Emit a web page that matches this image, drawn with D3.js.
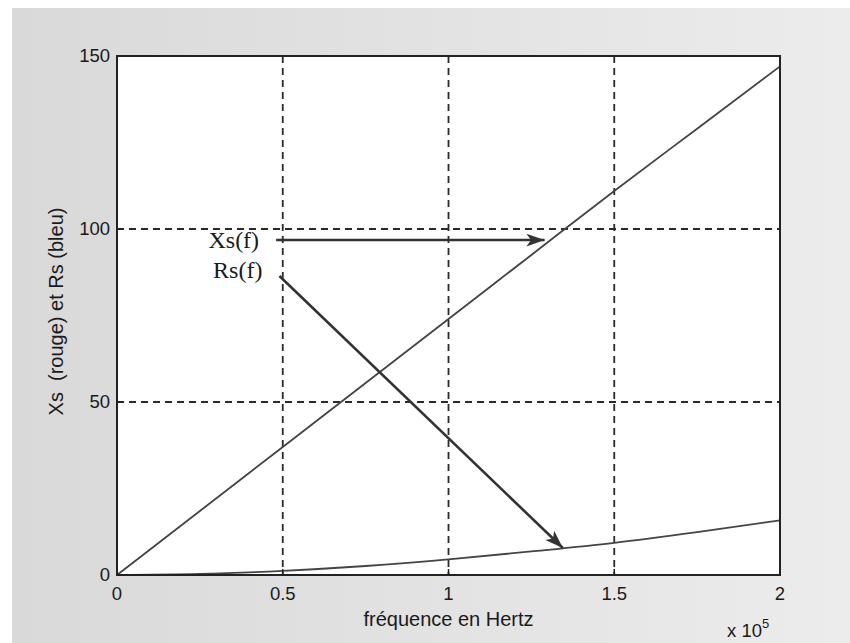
<!DOCTYPE html>
<html lang="fr">
<head>
<meta charset="UTF-8">
<title>Xs et Rs en fonction de la fréquence</title>
<script src="https://d3js.org/d3.v7.min.js"></script>
<style>
  body { margin: 0; background: #fff; }
  .tick-label { font-family: "Liberation Sans", Arial, sans-serif; font-size: 18.5px; fill: #1a1a1a; }
  .axis-label { font-family: "Liberation Sans", Arial, sans-serif; font-size: 20px; fill: #1a1a1a; }
  .note { font-family: "Liberation Serif", "Times New Roman", serif; font-size: 24px; fill: #1a1a1a; }
</style>
</head>
<body>
<div id="chart"></div>
<script>
// frequency in units of 1e5 Hz
const freq = [0, 0.25, 0.5, 0.75, 1, 1.25, 1.5, 1.75, 2];
const xsValues = [0, 18.5, 37, 55.5, 74, 92.5, 111, 129, 147];
const rsValues = [0, 0.3, 1.2, 2.6, 4.5, 6.8, 9.3, 12.4, 15.8];

const xTicks = [0, 0.5, 1, 1.5, 2];
const yTicks = [0, 50, 100, 150];

// annotation arrows [label, from f, from v, to f, to v]
const notes = [
  ["Xs(f)", 0.48, 96.8, 1.29, 96.8],
  ["Rs(f)", 0.49, 86.4, 1.345, 7.8]
];

const W = 850, H = 643;
const margin = { top: 56, right: 70, bottom: 68, left: 117 };
const width = W - margin.left - margin.right;
const height = H - margin.top - margin.bottom;

const svg = d3.select("#chart").append("svg")
  .attr("width", W)
  .attr("height", H);

const defs = svg.append("defs");
const grad = defs.append("linearGradient").attr("id", "paper");
grad.append("stop").attr("offset", "0%").attr("stop-color", "#d9d9d9");
grad.append("stop").attr("offset", "100%").attr("stop-color", "#ececec");

defs.append("marker")
  .attr("id", "head")
  .attr("viewBox", "0 0 10 10")
  .attr("refX", 10).attr("refY", 5)
  .attr("markerWidth", 7).attr("markerHeight", 7)
  .attr("markerUnits", "strokeWidth")
  .attr("orient", "auto")
  .append("path")
  .attr("d", "M0,1.5 L10,5 L0,8.5 L2.5,5 Z")
  .attr("fill", "#333");

// scanned paper background
svg.append("rect")
  .attr("x", 12).attr("y", 8)
  .attr("width", W - 12).attr("height", H - 8)
  .attr("fill", "url(#paper)");

const g = svg.append("g")
  .attr("transform", `translate(${margin.left},${margin.top})`);

const x = d3.scaleLinear().domain([0, 2]).range([0, width]);
const y = d3.scaleLinear().domain([0, 150]).range([height, 0]);

g.append("rect")
  .attr("width", width).attr("height", height)
  .attr("fill", "#fff");

// dashed grid
g.selectAll(".gx")
  .data(xTicks.slice(1, -1))
  .enter().append("line")
  .attr("x1", d => x(d)).attr("x2", d => x(d))
  .attr("y1", 0).attr("y2", height)
  .attr("stroke", "#2a2a2a").attr("stroke-width", 1.8)
  .attr("stroke-dasharray", "7,5");

g.selectAll(".gy")
  .data(yTicks.slice(1, -1))
  .enter().append("line")
  .attr("x1", 0).attr("x2", width)
  .attr("y1", d => y(d)).attr("y2", d => y(d))
  .attr("stroke", "#2a2a2a").attr("stroke-width", 1.8)
  .attr("stroke-dasharray", "7,5");

// curves
const line = d3.line()
  .x((d, i) => x(freq[i]))
  .y(d => y(d))
  .curve(d3.curveMonotoneX);

g.append("path")
  .datum(xsValues)
  .attr("d", line)
  .attr("fill", "none")
  .attr("stroke", "#444")
  .attr("stroke-width", 1.8);

g.append("path")
  .datum(rsValues)
  .attr("d", line)
  .attr("fill", "none")
  .attr("stroke", "#444")
  .attr("stroke-width", 1.8);

// frame
g.append("rect")
  .attr("width", width).attr("height", height)
  .attr("fill", "none")
  .attr("stroke", "#222")
  .attr("stroke-width", 2);

// inner ticks
g.selectAll(".tx")
  .data(xTicks)
  .enter().append("line")
  .attr("x1", d => x(d)).attr("x2", d => x(d))
  .attr("y1", height).attr("y2", height - 6)
  .attr("stroke", "#222").attr("stroke-width", 1.5);

g.selectAll(".ty")
  .data(yTicks)
  .enter().append("line")
  .attr("x1", 0).attr("x2", 6)
  .attr("y1", d => y(d)).attr("y2", d => y(d))
  .attr("stroke", "#222").attr("stroke-width", 1.5);

// tick labels
g.selectAll(".lx")
  .data(xTicks)
  .enter().append("text")
  .attr("class", "tick-label")
  .attr("x", d => x(d))
  .attr("y", height + 25)
  .attr("text-anchor", "middle")
  .text(d => d3.format("~g")(d));

g.selectAll(".ly")
  .data(yTicks)
  .enter().append("text")
  .attr("class", "tick-label")
  .attr("x", -7)
  .attr("y", d => y(d) + 6)
  .attr("text-anchor", "end")
  .text(d => d);

// axis labels
g.append("text")
  .attr("class", "axis-label")
  .attr("x", width / 2)
  .attr("y", height + 51)
  .attr("text-anchor", "middle")
  .text("fréquence en Hertz");

g.append("text")
  .attr("class", "axis-label")
  .attr("transform", `translate(-54,${height / 2 - 4}) rotate(-90)`)
  .attr("text-anchor", "middle")
  .attr("xml:space", "preserve")
  .text("Xs  (rouge) et Rs (bleu)");

const mult = g.append("text")
  .attr("class", "tick-label")
  .attr("x", width - 53)
  .attr("y", height + 62);
mult.append("tspan").text("x 10");
mult.append("tspan").attr("dy", -9).attr("font-size", 13).text("5");

// annotations
notes.forEach(([label, f0, v0, f1, v1]) => {
  g.append("line")
    .attr("x1", x(f0)).attr("y1", y(v0))
    .attr("x2", x(f1)).attr("y2", y(v1))
    .attr("stroke", "#333")
    .attr("stroke-width", 2.6)
    .attr("marker-end", "url(#head)");
  g.append("text")
    .attr("class", "note")
    .attr("x", x(f0) - 17)
    .attr("y", y(v0) + (label === "Xs(f)" ? 8 : 2))
    .attr("text-anchor", "end")
    .text(label);
});
</script>
</body>
</html>
